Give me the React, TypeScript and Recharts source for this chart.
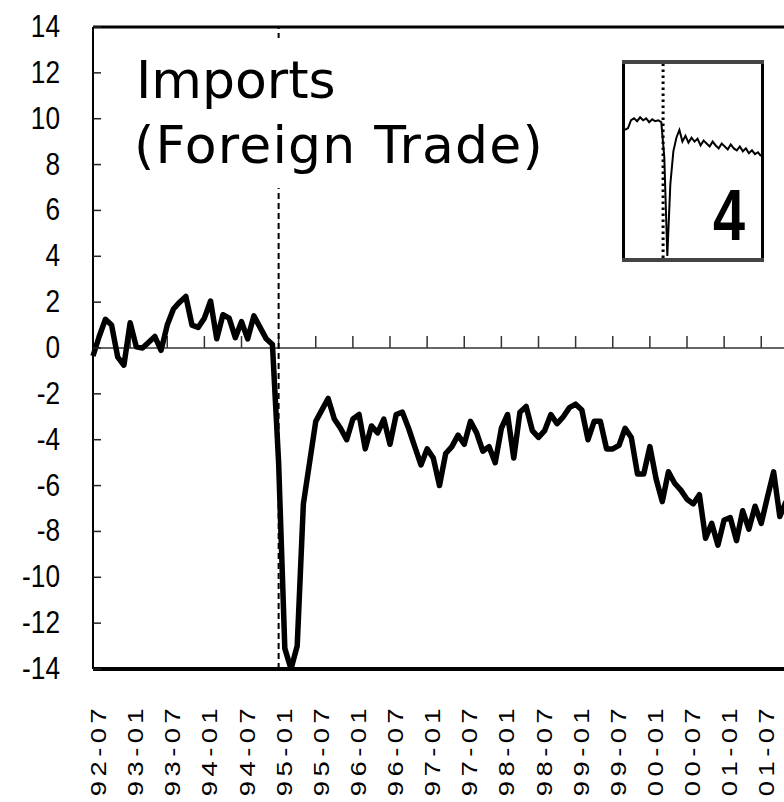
import { LineChart, Line, XAxis, YAxis, ReferenceLine } from 'recharts';

const tickLabels = [
  '92-07', '93-01', '93-07', '94-01', '94-07', '95-01', '95-07', '96-01', '96-07', '97-01',
  '97-07', '98-01', '98-07', '99-01', '99-07', '00-01', '00-07', '01-01', '01-07',
];

// monthly values starting at 92-07
const imports = [
  -0.35, 0.5, 1.25, 1.0, -0.4, -0.75, 1.1, 0.05, 0.0, 0.25,
  0.5, -0.1, 1.0, 1.7, 2.0, 2.25, 1.0, 0.9, 1.3, 2.05,
  0.4, 1.45, 1.3, 0.45, 1.15, 0.4, 1.4, 0.9, 0.4, 0.15,
  -5.0, -13.1, -14.0, -13.0, -6.8, -5.0, -3.2, -2.7, -2.2, -3.1,
  -3.5, -4.0, -3.1, -2.9, -4.4, -3.4, -3.7, -3.1, -4.2, -2.9,
  -2.8, -3.5, -4.3, -5.1, -4.4, -4.8, -6.0, -4.6, -4.3, -3.8,
  -4.2, -3.2, -3.7, -4.5, -4.3, -5.0, -3.5, -2.9, -4.8, -2.8,
  -2.55, -3.6, -3.9, -3.6, -2.9, -3.3, -3.0, -2.6, -2.45, -2.7,
  -4.0, -3.2, -3.2, -4.4, -4.4, -4.25, -3.5, -3.9, -5.5, -5.5,
  -4.3, -5.7, -6.7, -5.4, -5.9, -6.2, -6.6, -6.8, -6.4, -8.3,
  -7.65, -8.6, -7.5, -7.4, -8.4, -7.1, -7.9, -6.9, -7.65, -6.5,
  -5.4, -7.35, -6.7,
];

const yTicks = [-14, -12, -10, -8, -6, -4, -2, 0, 2, 4, 6, 8, 10, 12, 14];

// small thumbnail series in the top-right box
const insetValues = [
  66, 67, 71, 72, 70.5, 72.5, 71, 72, 70, 71.5,
  70.5, 71, 70, 52, 1, 38, 55, 62, 66, 60,
  63, 59.5, 62, 60, 61.5, 58, 60.5, 59, 57.5, 60,
  58, 56.5, 59, 57.5, 56, 58.5, 56.5, 55.5, 57.5, 55,
  56.5, 54, 55.5, 53.5, 54.5, 52.5,
];

const data = imports.map((v, i) => ({ i, v }));
const insetData = insetValues.map((v, i) => ({ i, v }));
const monthTicks = tickLabels.map((_, k) => k * 6);
const breakMonth = 30;

function YTick({ x, y, payload }: any) {
  return (
    <g>
      <line x1={x} x2={x + 8} y1={y} y2={y} stroke="#222" strokeWidth={1.5} />
      <text
        transform={`translate(${x - 33}, ${y + 10}) scale(0.82, 1)`}
        textAnchor="end"
        fontFamily="'Liberation Sans', Arial, sans-serif"
        fontSize={32}
        fill="#000"
      >
        {payload.value}
      </text>
    </g>
  );
}

function XTick({ x, y, payload }: any) {
  const label = tickLabels[Math.round(payload.value / 6)];
  return (
    <text
      transform={`translate(${x + 13}, ${y + 35}) rotate(-90) scale(1.25, 1)`}
      textAnchor="end"
      letterSpacing={3.5}
      fontFamily="'Liberation Sans', Arial, sans-serif"
      fontSize={22}
      fill="#000"
    >
      {label}
    </text>
  );
}

export default function App() {
  return (
    <div
      style={{
        position: 'fixed',
        left: 0,
        top: 0,
        width: 784,
        height: 802,
        overflow: 'hidden',
        background: '#fff',
      }}
    >
      <LineChart width={800} height={802} data={data} margin={{ top: 27, right: 14, bottom: 0, left: 0 }}>
        <XAxis
          dataKey="i"
          type="number"
          domain={[0, 112]}
          ticks={monthTicks}
          interval={0}
          height={133}
          tickSize={0}
          tickMargin={0}
          tickLine={false}
          axisLine={{ stroke: '#000', strokeWidth: 4 }}
          tick={<XTick />}
        />
        <YAxis
          domain={[-14, 14]}
          ticks={yTicks}
          interval={0}
          allowDataOverflow
          width={93}
          tickSize={0}
          tickMargin={0}
          tickLine={false}
          axisLine={{ stroke: '#000', strokeWidth: 2 }}
          tick={<YTick />}
        />
        <ReferenceLine y={14} stroke="#000" strokeWidth={3} />
        <ReferenceLine y={0} stroke="#333" strokeWidth={1.5} />
        {monthTicks.slice(1).map((t) => (
          <ReferenceLine
            key={t}
            segment={[{ x: t, y: 0 }, { x: t, y: 0.52 }]}
            stroke="#333"
            strokeWidth={1.5}
          />
        ))}
        <ReferenceLine x={breakMonth} stroke="#000" strokeWidth={2} strokeDasharray="6 4" />
        <Line
          dataKey="v"
          stroke="#000"
          strokeWidth={5.5}
          strokeLinejoin="round"
          dot={false}
          isAnimationActive={false}
        />
      </LineChart>

      <svg width={784} height={802} style={{ position: 'absolute', left: 0, top: 0, pointerEvents: 'none' }}>
        <rect x={128} y={38} width={437} height={150} fill="#fff" />
        <text x={136} y={98} fontFamily="'DejaVu Sans', sans-serif" fontSize={52} fill="#000">
          Imports
        </text>
        <text x={134} y={163} fontFamily="'DejaVu Sans', sans-serif" fontSize={52} letterSpacing={1.2} fill="#000">
          (Foreign Trade)
        </text>
      </svg>

      <div style={{ position: 'absolute', left: 624, top: 63, width: 138, height: 196, background: '#fff' }}>
        <LineChart width={138} height={196} data={insetData} margin={{ top: 1, right: 1, bottom: 1, left: 1 }}>
          <XAxis dataKey="i" type="number" domain={[0, 45]} hide />
          <YAxis domain={[0, 100]} hide width={0} />
          <ReferenceLine x={12.6} stroke="#000" strokeWidth={3} strokeDasharray="2.5 3.5" />
          <Line
            dataKey="v"
            stroke="#000"
            strokeWidth={2}
            dot={false}
            isAnimationActive={false}
          />
        </LineChart>
      </div>

      <svg width={784} height={802} style={{ position: 'absolute', left: 0, top: 0, pointerEvents: 'none' }}>
        <rect x={623.5} y={62} width={139} height={198} fill="none" stroke="#000" strokeWidth={3} />
        <line x1={622} x2={764} y1={62} y2={62} stroke="#444" strokeWidth={4} />
        <line x1={622} x2={764} y1={260} y2={260} stroke="#444" strokeWidth={4} />
        <text
          transform="translate(729, 240) scale(0.8, 1)"
          textAnchor="middle"
          fontFamily="'Liberation Sans', Arial, sans-serif"
          fontWeight="bold"
          fontSize={72}
          fill="#000"
        >
          4
        </text>
      </svg>
    </div>
  );
}
